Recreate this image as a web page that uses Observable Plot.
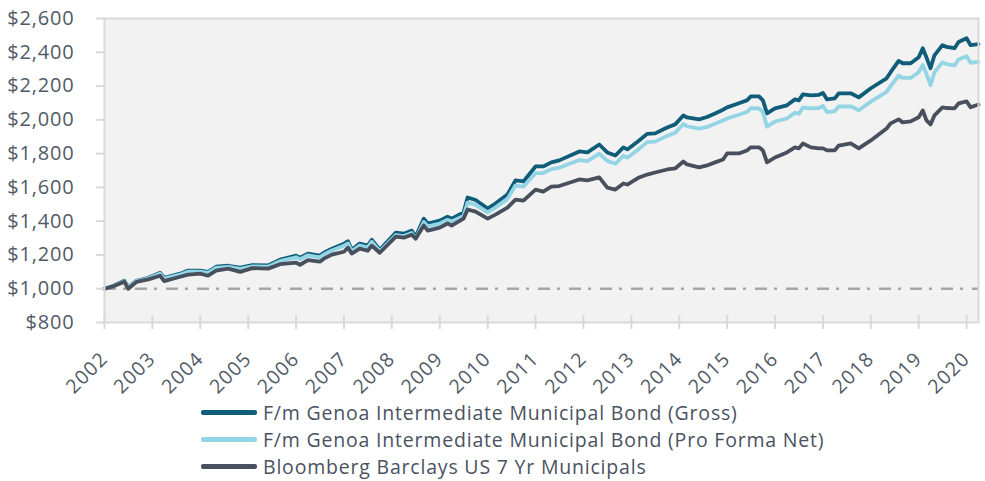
<!DOCTYPE html>
<html>
<head>
<meta charset="utf-8">
<script src="https://cdn.jsdelivr.net/npm/d3@7"></script>
<script src="https://cdn.jsdelivr.net/npm/@observablehq/plot@0.6"></script>
<style>
  html, body { margin: 0; padding: 0; background: #ffffff; }
  body { width: 985px; height: 481px; overflow: hidden; font-family: "Open Sans", sans-serif; }
  #chart svg { display: block; }
  .legend { position: relative; margin-left: 201px; margin-top: 9px; }
  .legend .row { display: flex; align-items: center; height: 27px; }
  .legend .swatch { width: 56px; height: 4.5px; border-radius: 2px; margin-right: 6px; }
  .legend .label { font-size: 19.5px; letter-spacing: 0.8px; color: #4a5260; white-space: nowrap; }
</style>
</head>
<body>
<div id="chart"></div>
<div class="legend" id="legend"></div>
<script>
const dates = ["2002-01","2002-03","2002-06","2002-07","2002-09","2002-12","2003-03","2003-04","2003-08","2003-10",
"2004-01","2004-03","2004-05","2004-08","2004-11","2005-02","2005-06","2005-09","2006-01","2006-02",
"2006-04","2006-07","2006-08","2006-10","2007-01","2007-02","2007-03","2007-05","2007-07","2007-08",
"2007-10","2008-02","2008-04","2008-06","2008-07","2008-09","2008-10","2009-01","2009-03","2009-04",
"2009-07","2009-08","2009-10","2010-01","2010-03","2010-06","2010-08","2010-10","2011-01","2011-03",
"2011-05","2011-07","2011-12","2012-02","2012-05","2012-07","2012-09","2012-11","2012-12","2013-03",
"2013-05","2013-07","2013-10","2013-12","2014-02","2014-03","2014-06","2014-08","2014-10","2014-12",
"2015-01","2015-04","2015-06","2015-07","2015-09","2015-10","2015-11","2016-01","2016-04","2016-06",
"2016-07","2016-08","2016-10","2016-12","2017-01","2017-02","2017-04","2017-05","2017-08","2017-10",
"2018-01","2018-05","2018-06","2018-08","2018-09","2018-11","2019-01","2019-02","2019-03","2019-04",
"2019-05","2019-07","2019-08","2019-10","2019-11","2020-01","2020-02","2020-04"];

const gross = [1000,1015,1047,1010,1047,1065,1095,1065,1089,1107,
1107,1100,1130,1136,1125,1140,1138,1172,1196,1184,
1208,1196,1213,1237,1267,1281,1231,1267,1255,1290,
1231,1332,1326,1344,1308,1415,1386,1403,1427,1415,
1451,1540,1525,1475,1504,1558,1641,1635,1724,1724,
1748,1760,1813,1807,1854,1807,1789,1837,1825,1878,
1917,1920,1955,1973,2026,2014,2003,2017,2038,2060,
2074,2098,2115,2139,2139,2115,2038,2068,2086,2121,
2115,2151,2145,2148,2159,2121,2127,2157,2157,2133,
2187,2246,2282,2349,2335,2335,2370,2424,2370,2305,
2382,2442,2432,2424,2461,2483,2442,2448];

const net = [1000,1014,1045,1008,1045,1062,1090,1060,1084,1101,
1101,1094,1123,1129,1118,1132,1130,1163,1186,1175,
1198,1186,1203,1226,1255,1268,1222,1256,1244,1278,
1222,1318,1312,1330,1296,1395,1370,1386,1408,1398,
1430,1510,1497,1452,1480,1532,1611,1605,1684,1685,
1708,1716,1762,1756,1800,1757,1740,1787,1776,1828,
1868,1871,1905,1923,1975,1962,1948,1958,1977,1996,
2008,2030,2046,2069,2068,2045,1960,1990,2008,2042,
2036,2073,2068,2070,2082,2046,2052,2079,2080,2057,
2108,2166,2200,2262,2248,2248,2282,2325,2272,2205,
2282,2340,2330,2322,2357,2377,2338,2343];

const bench = [1000,1012,1042,1000,1040,1055,1077,1045,1071,1083,
1089,1077,1107,1119,1100,1122,1119,1145,1154,1142,
1169,1160,1178,1202,1219,1243,1208,1237,1225,1255,
1213,1308,1302,1320,1296,1374,1344,1362,1386,1374,
1415,1469,1457,1415,1439,1480,1528,1522,1587,1575,
1605,1608,1647,1641,1659,1599,1587,1623,1617,1659,
1676,1688,1706,1712,1753,1736,1718,1730,1748,1765,
1801,1801,1819,1837,1837,1819,1748,1777,1807,1837,
1831,1860,1837,1831,1831,1819,1819,1848,1860,1831,
1878,1949,1979,2003,1985,1991,2015,2056,1997,1973,
2026,2074,2070,2068,2097,2109,2074,2091];

const seriesNames = [
  "F/m Genoa Intermediate Municipal Bond (Gross)",
  "F/m Genoa Intermediate Municipal Bond (Pro Forma Net)",
  "Bloomberg Barclays US 7 Yr Municipals"
];
const seriesColors = ["#0f5d79", "#93d4e5", "#48505d"];
const yTicks = [800, 1000, 1200, 1400, 1600, 1800, 2000, 2200, 2400, 2600];
const xTickLabels = ["2002","2003","2004","2005","2006","2007","2008","2009","2010","2011",
"2012","2013","2014","2015","2016","2017","2018","2019","2020"];
const referenceLevel = [1000];
const xStart = "2002-01", xEnd = "2020-04";

const parse = d3.utcParse("%Y-%m");
const values = [gross, net, bench];
const rows = [];
values.forEach((vals, s) => {
  vals.forEach((v, i) => rows.push({date: parse(dates[i]), value: v, series: seriesNames[s]}));
});
const tickDates = xTickLabels.map(y => d3.utcParse("%Y")(y));
const fmtY = d => "$" + d3.format(",")(d);

const textColor = "#515a67";
const gridColor = "#d9d9d9";

const chart = Plot.plot({
  width: 985,
  height: 390,
  marginLeft: 104,
  marginRight: 7,
  marginTop: 18,
  marginBottom: 68,
  x: {type: "utc", domain: [parse(xStart), parse(xEnd)], label: null},
  y: {domain: [800, 2600], label: null},
  color: {domain: seriesNames, range: seriesColors},
  style: {fontFamily: "'Open Sans', sans-serif", fontSize: "19.5px", background: "transparent", overflow: "visible"},
  marks: [
    Plot.frame({fill: "#f2f2f2", stroke: "none"}),
    Plot.ruleY(referenceLevel, {stroke: "#a6a6a6", strokeWidth: 2.5, strokeDasharray: "12,7,3,9"}),
    ...seriesNames.map((name, s) =>
      Plot.line(rows.filter(r => r.series === name), {
        x: "date", y: "value", stroke: seriesColors[s], strokeWidth: 3.8,
        strokeLinejoin: "round", strokeLinecap: "round"
      })
    ),
    Plot.frame({stroke: gridColor, strokeWidth: 2}),
    Plot.axisY({ticks: yTicks, tickSize: 8, stroke: gridColor, strokeWidth: 2, tickFormat: () => "", label: null}),
    Plot.axisY({ticks: yTicks, tickSize: 0, tickPadding: 30, tickFormat: fmtY, fill: textColor, fontSize: 20, label: null}),
    Plot.axisX({ticks: tickDates, tickSize: 14, dy: -7, stroke: gridColor, strokeWidth: 2, tickFormat: () => "", label: null}),
    Plot.axisX({ticks: tickDates, tickSize: 0, tickPadding: 33, dx: 0, tickRotate: -45, fill: textColor, fontSize: 19.5, label: null,
      tickFormat: d => xTickLabels[tickDates.findIndex(t => +t === +d)]})
  ]
});
chart.querySelectorAll('g[aria-label="y-axis tick label"] text').forEach(t => t.style.letterSpacing = "0.8px");
chart.querySelectorAll('g[aria-label="x-axis tick label"] text').forEach(t => t.style.letterSpacing = "1.2px");
document.getElementById("chart").appendChild(chart);

const legend = document.getElementById("legend");
seriesNames.forEach((name, s) => {
  const row = document.createElement("div");
  row.className = "row";
  const sw = document.createElement("div");
  sw.className = "swatch";
  sw.style.background = seriesColors[s];
  const lab = document.createElement("span");
  lab.className = "label";
  lab.textContent = name;
  row.appendChild(sw);
  row.appendChild(lab);
  legend.appendChild(row);
});
</script>
</body>
</html>
